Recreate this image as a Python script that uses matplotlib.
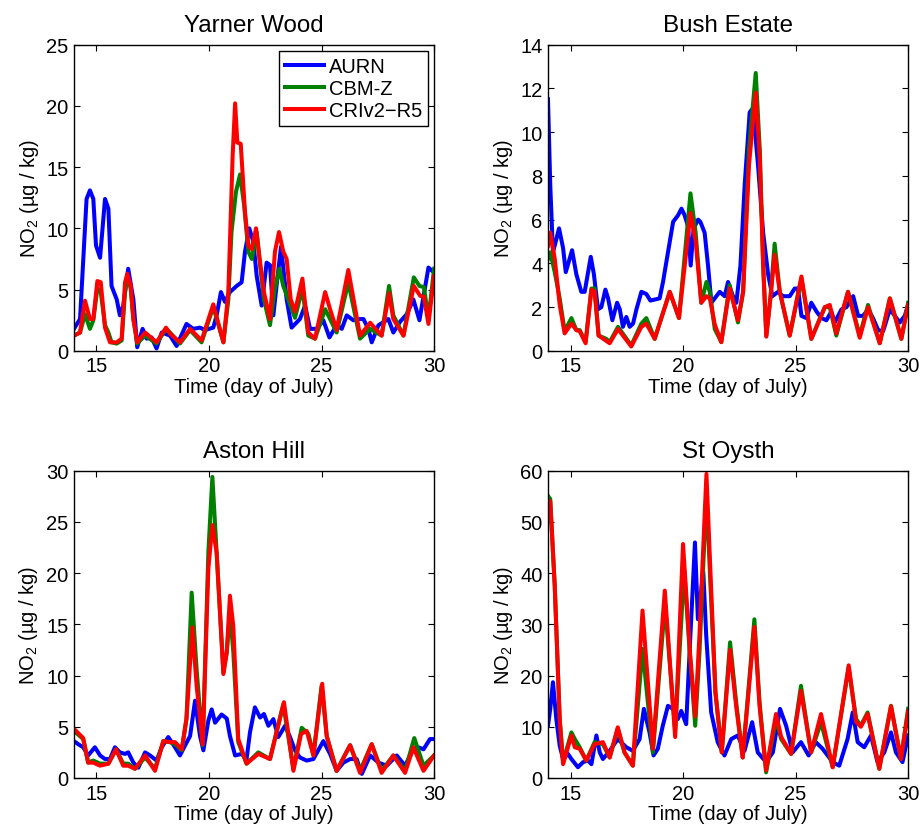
import numpy as np
import matplotlib
matplotlib.use('Agg')
import matplotlib.pyplot as plt

plt.rcParams['font.family'] = ['Liberation Sans', 'DejaVu Sans']
plt.rcParams['mathtext.fontset'] = 'custom'
plt.rcParams['mathtext.rm'] = 'Liberation Sans'
plt.rcParams['mathtext.it'] = 'Liberation Sans'
plt.rcParams['font.size'] = 14.5

series_names = ['AURN', 'CBM-Z', 'CRIv2\u2212R5']
series_colors = ['#0000ff', '#008000', '#ff0000']
xticks = [15, 20, 25, 30]

# Yarner Wood
yw_aurn_t = [14.0, 14.27, 14.56, 14.71, 14.86, 14.98, 15.16, 15.38, 15.53, 15.67, 15.9, 16.04, 16.19, 16.41, 16.64, 16.81, 17.05, 17.23, 17.45, 17.67, 17.9, 18.27, 18.56, 19.0, 19.3, 19.6, 19.82, 20.19, 20.34, 20.53, 20.71, 20.93, 21.23, 21.45, 21.6, 21.79, 21.97, 22.12, 22.34, 22.56, 22.71, 22.86, 23.0, 23.2, 23.45, 23.67, 24.04, 24.27, 24.49, 24.78, 25.08, 25.35, 25.67, 25.9, 26.12, 26.41, 26.63, 26.86, 27.08, 27.23, 27.53, 27.97, 28.19, 28.5, 28.79, 29.08, 29.35, 29.75, 30.0]
yw_aurn_v = [1.8, 2.6, 12.4, 13.1, 12.4, 8.6, 7.6, 12.4, 11.6, 5.3, 4.2, 2.9, 3.7, 6.7, 4.2, 0.3, 1.8, 1.0, 1.1, 0.2, 1.5, 1.25, 0.4, 2.2, 1.8, 1.9, 1.7, 1.9, 2.9, 4.8, 4.0, 4.8, 5.3, 5.6, 8.1, 10.0, 8.9, 6.1, 3.7, 7.2, 7.0, 2.9, 5.3, 8.5, 4.2, 1.9, 2.6, 3.7, 1.8, 1.8, 2.5, 1.1, 2.1, 1.8, 2.9, 2.5, 2.6, 2.6, 1.8, 0.7, 2.1, 2.6, 1.5, 2.4, 3.0, 4.2, 2.5, 6.8, 6.4]
yw_cbmz_t = [14.0, 14.27, 14.49, 14.71, 14.86, 15.04, 15.19, 15.38, 15.53, 15.67, 15.9, 16.12, 16.27, 16.37, 16.52, 16.64, 16.81, 17.16, 17.67, 18.09, 18.27, 18.71, 19.16, 19.67, 20.19, 20.64, 20.86, 21.0, 21.2, 21.38, 21.56, 21.75, 21.9, 22.12, 22.27, 22.44, 22.71, 22.93, 23.13, 23.3, 23.52, 23.82, 24.15, 24.41, 24.71, 25.16, 25.38, 25.67, 26.19, 26.71, 27.16, 27.67, 28.0, 28.19, 28.64, 29.1, 29.35, 29.55, 29.75, 30.0]
yw_cbmz_v = [1.25, 1.5, 3.0, 1.8, 2.5, 5.1, 4.8, 2.1, 1.5, 0.7, 0.6, 0.85, 4.8, 6.1, 5.1, 2.6, 0.6, 1.25, 0.6, 1.8, 1.5, 0.6, 1.7, 0.7, 3.6, 0.7, 4.2, 9.7, 13.0, 14.4, 11.9, 8.1, 7.5, 9.7, 7.0, 4.2, 2.1, 5.1, 6.7, 5.3, 4.2, 2.7, 5.1, 1.25, 1.0, 3.4, 2.6, 1.5, 5.6, 1.0, 1.8, 1.25, 5.3, 2.9, 1.25, 6.0, 5.3, 5.2, 2.6, 6.7]
yw_cri_t = [14.0, 14.27, 14.49, 14.71, 14.86, 15.04, 15.19, 15.38, 15.6, 15.9, 16.12, 16.27, 16.37, 16.52, 16.64, 16.81, 17.16, 17.67, 18.09, 18.27, 18.71, 19.16, 19.67, 20.19, 20.64, 20.86, 21.05, 21.16, 21.26, 21.41, 21.6, 21.75, 21.9, 22.09, 22.27, 22.44, 22.71, 22.93, 23.11, 23.3, 23.45, 23.63, 23.82, 24.15, 24.41, 24.71, 25.16, 25.38, 25.67, 26.19, 26.71, 27.16, 27.67, 28.0, 28.19, 28.64, 29.1, 29.38, 29.55, 29.75, 30.0]
yw_cri_v = [1.25, 1.5, 4.1, 2.6, 2.6, 5.7, 5.6, 1.9, 0.7, 0.7, 1.0, 5.6, 6.3, 5.3, 2.6, 0.7, 1.5, 0.7, 1.9, 1.4, 0.7, 1.8, 0.85, 3.8, 0.7, 4.8, 15.9, 20.2, 17.0, 16.9, 11.3, 8.6, 8.3, 10.0, 7.2, 4.8, 2.6, 8.1, 9.7, 8.1, 7.5, 4.2, 3.2, 5.9, 1.5, 1.0, 4.8, 3.4, 1.7, 6.6, 1.25, 2.3, 1.25, 4.7, 2.6, 1.25, 5.3, 4.5, 4.4, 2.2, 6.1]

# Bush Estate
be_aurn_t = [14.0, 14.1, 14.22, 14.37, 14.49, 14.67, 14.79, 14.93, 15.07, 15.26, 15.48, 15.63, 15.9, 16.04, 16.22, 16.37, 16.55, 16.67, 16.86, 17.07, 17.19, 17.33, 17.48, 17.63, 17.78, 17.93, 18.15, 18.37, 18.55, 18.96, 19.11, 19.33, 19.56, 19.78, 19.93, 20.07, 20.22, 20.34, 20.47, 20.67, 20.77, 20.96, 21.11, 21.26, 21.48, 21.63, 21.85, 22.0, 22.22, 22.37, 22.55, 22.74, 22.96, 23.11, 23.33, 23.56, 23.78, 23.97, 24.22, 24.44, 24.74, 24.96, 25.11, 25.26, 25.48, 25.7, 25.93, 26.15, 26.37, 26.59, 26.74, 27.04, 27.26, 27.56, 27.78, 28.0, 28.22, 28.44, 28.67, 28.89, 29.19, 29.41, 29.63, 29.85, 30.0]
be_aurn_v = [11.5, 7.6, 4.5, 5.1, 5.6, 4.7, 3.6, 4.1, 4.6, 3.5, 2.7, 2.7, 4.3, 3.5, 1.9, 2.0, 2.8, 2.4, 1.4, 2.2, 1.9, 1.1, 1.55, 1.1, 1.25, 1.9, 2.7, 2.6, 2.3, 2.4, 3.15, 4.5, 5.9, 6.2, 6.5, 6.2, 5.7, 3.9, 5.6, 6.0, 5.9, 5.4, 3.9, 2.2, 2.5, 2.7, 2.5, 3.15, 2.5, 2.2, 3.9, 7.6, 10.9, 11.1, 8.5, 5.4, 3.5, 2.5, 2.7, 2.5, 2.5, 2.85, 2.85, 1.6, 1.5, 2.2, 1.8, 1.5, 1.4, 1.8, 1.3, 1.9, 2.0, 2.5, 1.6, 1.6, 1.9, 1.5, 0.95, 0.9, 1.9, 1.6, 1.3, 1.6, 2.1]
be_cbmz_t = [14.0, 14.1, 14.3, 14.52, 14.74, 15.04, 15.26, 15.41, 15.67, 15.93, 16.07, 16.25, 16.59, 16.74, 17.11, 17.7, 18.15, 18.37, 18.74, 19.41, 19.82, 20.33, 20.56, 20.81, 21.04, 21.19, 21.41, 21.7, 22.07, 22.44, 22.67, 22.93, 23.23, 23.41, 23.56, 23.7, 23.88, 24.07, 24.3, 24.74, 25.26, 25.7, 26.3, 26.52, 26.81, 27.33, 27.85, 28.22, 28.74, 29.19, 29.7, 30.0]
be_cbmz_v = [4.2, 4.5, 3.6, 2.4, 0.9, 1.5, 0.95, 0.95, 0.4, 2.85, 2.85, 0.7, 0.55, 0.4, 1.1, 0.25, 1.25, 1.5, 0.55, 2.7, 1.5, 7.2, 5.4, 2.2, 3.15, 2.7, 1.0, 0.4, 3.0, 1.3, 2.7, 9.2, 12.7, 9.2, 3.9, 0.7, 2.4, 4.9, 2.7, 0.7, 3.3, 0.55, 2.0, 2.0, 0.7, 2.7, 0.7, 2.1, 0.35, 2.4, 0.55, 2.2]
be_cri_t = [14.0, 14.1, 14.3, 14.52, 14.74, 15.04, 15.26, 15.41, 15.67, 15.93, 16.07, 16.25, 16.74, 17.11, 17.7, 18.15, 18.37, 18.74, 19.41, 19.82, 20.33, 20.56, 20.81, 21.04, 21.19, 21.41, 21.7, 22.07, 22.44, 22.67, 22.93, 23.23, 23.41, 23.56, 23.7, 23.88, 24.07, 24.3, 24.74, 25.26, 25.7, 26.3, 26.52, 26.81, 27.33, 27.85, 28.22, 28.74, 29.19, 29.7, 30.0]
be_cri_v = [4.8, 5.4, 4.2, 2.1, 0.8, 1.25, 0.95, 0.9, 0.35, 2.8, 2.7, 0.7, 0.35, 1.0, 0.2, 1.1, 1.25, 0.55, 2.7, 1.5, 6.3, 5.0, 2.2, 2.5, 2.4, 1.2, 0.4, 2.85, 1.4, 2.7, 8.5, 11.8, 8.8, 3.9, 0.65, 2.4, 4.4, 2.7, 0.7, 3.4, 0.55, 2.0, 2.1, 0.8, 2.7, 0.6, 2.0, 0.35, 2.4, 0.55, 2.1]

# Aston Hill
ah_aurn_t = [14.0, 14.19, 14.41, 14.63, 14.93, 15.16, 15.38, 15.6, 15.82, 16.04, 16.27, 16.41, 16.64, 16.86, 17.16, 17.38, 17.67, 17.9, 18.19, 18.49, 18.71, 18.93, 19.16, 19.38, 19.6, 19.75, 19.97, 20.12, 20.27, 20.56, 20.79, 20.93, 21.16, 21.45, 21.67, 21.82, 22.04, 22.27, 22.44, 22.64, 22.86, 23.08, 23.38, 23.6, 23.82, 24.04, 24.34, 24.64, 25.08, 25.38, 25.67, 25.97, 26.27, 26.56, 26.79, 27.16, 27.53, 27.9, 28.34, 28.71, 29.08, 29.3, 29.53, 29.82, 30.0]
ah_aurn_v = [3.6, 3.3, 3.0, 2.2, 3.0, 2.2, 1.85, 1.85, 3.0, 2.5, 2.35, 2.5, 1.5, 1.0, 2.5, 2.2, 1.7, 3.0, 4.0, 3.0, 2.2, 3.15, 4.1, 7.55, 4.1, 2.7, 5.6, 6.7, 5.4, 6.2, 5.8, 4.1, 2.2, 2.35, 1.85, 4.45, 6.9, 5.9, 6.25, 5.1, 5.75, 4.0, 5.1, 4.0, 2.7, 2.0, 1.7, 1.85, 3.6, 2.35, 0.7, 1.5, 1.85, 1.85, 0.4, 2.2, 1.5, 1.2, 2.2, 1.2, 2.8, 3.0, 2.8, 3.8, 3.8]
ah_cbmz_t = [14.0, 14.41, 14.63, 14.86, 15.16, 15.53, 15.87, 16.19, 16.41, 16.71, 17.16, 17.6, 17.97, 18.27, 18.49, 18.79, 19.0, 19.23, 19.45, 19.72, 19.97, 20.15, 20.34, 20.64, 20.79, 20.93, 21.08, 21.3, 21.67, 22.19, 22.71, 23.3, 23.75, 24.12, 24.42, 24.64, 25.0, 25.23, 25.67, 26.27, 26.71, 27.23, 27.67, 28.19, 28.71, 29.12, 29.53, 30.0]
ah_cbmz_v = [4.6, 3.8, 1.5, 1.7, 1.4, 1.4, 2.8, 1.4, 1.4, 0.9, 2.0, 0.9, 3.6, 3.5, 3.3, 2.7, 5.8, 18.1, 10.6, 3.2, 22.0, 29.4, 22.0, 10.3, 12.3, 16.2, 12.3, 3.5, 1.4, 2.5, 1.85, 7.2, 0.9, 4.9, 4.3, 2.2, 9.0, 4.1, 0.7, 3.2, 0.7, 3.3, 0.7, 2.2, 0.7, 3.9, 1.2, 2.2]
ah_cri_t = [14.0, 14.41, 14.63, 14.86, 15.16, 15.53, 15.87, 16.19, 16.41, 16.71, 17.16, 17.6, 17.97, 18.27, 18.49, 18.79, 19.0, 19.26, 19.45, 19.72, 19.97, 20.15, 20.34, 20.64, 20.79, 20.93, 21.08, 21.3, 21.67, 22.19, 22.71, 23.33, 23.75, 24.09, 24.34, 24.64, 25.03, 25.23, 25.67, 26.27, 26.71, 27.23, 27.67, 28.19, 28.71, 29.08, 29.53, 30.0]
ah_cri_v = [4.8, 3.9, 1.5, 1.5, 1.2, 1.4, 2.8, 1.2, 1.2, 0.9, 2.2, 0.7, 3.6, 3.5, 3.5, 2.8, 5.8, 14.7, 9.0, 3.3, 20.4, 24.7, 22.0, 10.15, 12.3, 17.8, 14.8, 3.8, 1.4, 2.35, 1.85, 7.4, 0.7, 4.3, 4.6, 2.2, 9.2, 4.1, 0.7, 3.2, 0.5, 3.3, 0.5, 2.2, 0.5, 3.0, 0.7, 2.2]

# St Oysth
so_aurn_t = [14.0, 14.1, 14.22, 14.37, 14.52, 14.67, 14.89, 15.04, 15.33, 15.56, 15.78, 15.93, 16.15, 16.3, 16.44, 16.74, 17.1, 17.48, 17.77, 18.07, 18.26, 18.51, 18.69, 18.88, 19.1, 19.33, 19.55, 19.77, 19.92, 20.14, 20.29, 20.53, 20.66, 20.9, 21.03, 21.25, 21.54, 21.84, 22.14, 22.43, 22.73, 23.07, 23.32, 23.69, 23.99, 24.31, 24.58, 24.87, 25.24, 25.58, 25.9, 26.2, 26.65, 26.94, 27.31, 27.54, 27.76, 28.05, 28.35, 28.64, 28.94, 29.24, 29.46, 29.75, 30.0]
so_aurn_v = [10.2, 13.5, 18.7, 11.5, 6.3, 3.7, 4.7, 3.7, 2.1, 3.1, 3.4, 2.7, 8.3, 5.0, 3.7, 5.3, 7.6, 6.0, 5.3, 7.6, 13.5, 8.9, 4.4, 5.7, 10.2, 14.1, 13.5, 11.5, 13.1, 10.5, 24.5, 46.0, 31.0, 40.2, 27.8, 12.8, 7.0, 4.4, 7.6, 8.3, 5.3, 10.9, 5.0, 3.1, 5.0, 13.5, 10.2, 5.0, 7.0, 4.4, 7.0, 5.7, 3.1, 2.4, 7.6, 12.8, 7.0, 6.0, 8.3, 3.1, 5.0, 8.9, 5.0, 3.1, 8.3]
so_cbmz_t = [14.0, 14.1, 14.3, 14.52, 14.67, 15.04, 15.19, 15.41, 15.7, 16.07, 16.44, 16.74, 17.1, 17.4, 17.77, 18.2, 18.66, 19.2, 19.65, 20.05, 20.3, 20.54, 20.73, 21.04, 21.22, 21.44, 21.72, 22.09, 22.36, 22.65, 23.17, 23.4, 23.69, 24.13, 24.36, 24.8, 25.24, 25.69, 26.13, 26.65, 27.36, 27.69, 27.9, 28.2, 28.72, 29.24, 29.68, 30.0]
so_cbmz_v = [55.1, 54.5, 37.5, 11.5, 3.1, 8.9, 7.6, 6.0, 3.4, 7.0, 6.6, 4.0, 9.6, 5.0, 2.4, 25.2, 5.0, 34.0, 9.2, 40.8, 24.5, 10.2, 24.5, 55.8, 37.5, 16.7, 5.0, 26.5, 14.8, 4.0, 31.0, 14.8, 1.1, 11.5, 7.6, 4.7, 18.0, 5.0, 10.9, 2.1, 21.6, 11.5, 10.2, 12.8, 1.8, 14.1, 3.7, 13.5]
so_cri_t = [14.0, 14.1, 14.3, 14.52, 14.67, 15.04, 15.19, 15.41, 15.7, 16.07, 16.44, 16.74, 17.1, 17.4, 17.77, 18.2, 18.66, 19.19, 19.65, 20.0, 20.3, 20.54, 20.73, 21.04, 21.22, 21.44, 21.72, 22.09, 22.36, 22.65, 23.17, 23.4, 23.69, 24.13, 24.36, 24.8, 25.24, 25.69, 26.13, 26.65, 27.36, 27.69, 27.9, 28.2, 28.72, 29.24, 29.68, 30.0]
so_cri_v = [53.2, 54.1, 37.5, 11.5, 2.7, 8.3, 6.0, 5.7, 3.4, 6.6, 7.0, 4.0, 9.9, 5.0, 2.4, 32.7, 5.7, 36.6, 8.0, 45.7, 25.0, 12.0, 28.0, 59.4, 40.0, 16.7, 5.0, 25.0, 14.0, 4.0, 29.5, 14.0, 1.5, 12.5, 8.0, 4.7, 17.0, 5.0, 12.5, 2.1, 22.0, 11.0, 10.0, 12.5, 1.8, 14.0, 3.7, 13.0]

panels = [
    ('Yarner Wood', [(yw_aurn_t, yw_aurn_v), (yw_cbmz_t, yw_cbmz_v), (yw_cri_t, yw_cri_v)], 25, 5),
    ('Bush Estate', [(be_aurn_t, be_aurn_v), (be_cbmz_t, be_cbmz_v), (be_cri_t, be_cri_v)], 14, 2),
    ('Aston Hill', [(ah_aurn_t, ah_aurn_v), (ah_cbmz_t, ah_cbmz_v), (ah_cri_t, ah_cri_v)], 30, 5),
    ('St Oysth', [(so_aurn_t, so_aurn_v), (so_cbmz_t, so_cbmz_v), (so_cri_t, so_cri_v)], 60, 10),
]

fig = plt.figure(figsize=(9.21, 8.28), dpi=100)
# axes boxes in figure fractions (left, bottom, width, height)
boxes = [
    (0.0803, 0.575, 0.391, 0.370),
    (0.595, 0.575, 0.391, 0.370),
    (0.0803, 0.0592, 0.391, 0.371),
    (0.595, 0.0592, 0.391, 0.371),
]

for k, (title, data, ymax, ystep) in enumerate(panels):
    ax = fig.add_axes(boxes[k])
    for (t, v), name, col in zip(data, series_names, series_colors):
        ax.plot(t, v, color=col, lw=2.9, label=name, solid_joinstyle='round')
    ax.set_xlim(14, 30)
    ax.set_ylim(0, ymax)
    ax.set_xticks(xticks)
    ax.set_yticks(np.arange(0, ymax + 0.1, ystep))
    ax.tick_params(direction='in', top=True, right=True, length=4, width=0.8, pad=4)
    for sp in ax.spines.values():
        sp.set_linewidth(1.0)
    ax.set_title(title, pad=10)
    ax.set_xlabel('Time (day of July)', labelpad=1)
    ax.set_ylabel('NO$_2$ (\u00b5g / kg)', labelpad=4)
    if k == 0:
        leg = ax.legend(loc='upper right', fancybox=False, edgecolor='black',
                        framealpha=1, borderaxespad=0.3, labelspacing=0.15,
                        handlelength=1.9, handletextpad=0.25, borderpad=0.3)
        leg.get_frame().set_linewidth(1.0)

plt.savefig('out.png', dpi=100)
